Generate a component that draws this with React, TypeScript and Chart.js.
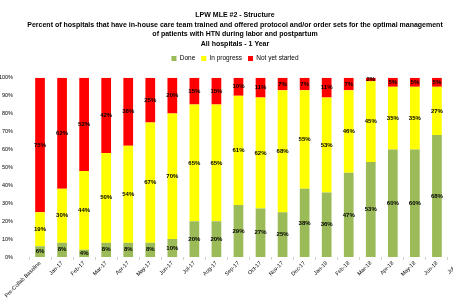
import React, { useEffect, useRef } from "react";
import { Chart, registerables } from "chart.js";

Chart.register(...registerables);

const titleLines = [
  "LPW MLE #2 - Structure",
  "Percent of hospitals that have in-house care team trained and offered protocol and/or order sets for the optimal management",
  "of patients with HTN during labor and postpartum",
  "All hospitals - 1 Year",
];

const categories = [
  "Pre-Collab Baseline",
  "Jan-17", "Feb-17", "Mar-17", "Apr-17", "May-17", "Jun-17",
  "Jul-17", "Aug-17", "Sep-17", "Oct-17", "Nov-17", "Dec-17",
  "Jan-18", "Feb-18", "Mar-18", "Apr-18", "May-18", "Jun-18", "Jul-18",
];

const seriesNames = ["Done", "In progress", "Not yet started"];
const doneValues = [6, 8, 4, 8, 8, 8, 10, 20, 20, 29, 27, 25, 38, 36, 47, 53, 60, 60, 68, null];
const progressValues = [19, 30, 44, 50, 54, 67, 70, 65, 65, 61, 62, 68, 55, 53, 46, 45, 35, 35, 27, null];
const notStartedValues = [75, 62, 52, 42, 38, 25, 20, 15, 15, 10, 11, 7, 7, 11, 7, 2, 5, 5, 5, null];

const colors = ["#9BBB59", "#FFFF00", "#FF0000"];

const FONT = "'Liberation Sans', Arial, sans-serif";

const dataLabelPlugin = {
  id: "segLabels",
  afterDatasetsDraw(chart: any) {
    const ctx = chart.ctx;
    ctx.save();
    ctx.font = `bold 6px ${FONT}`;
    ctx.fillStyle = "#000";
    ctx.textAlign = "center";
    ctx.textBaseline = "middle";
    chart.data.datasets.forEach((ds: any, di: number) => {
      const meta = chart.getDatasetMeta(di);
      meta.data.forEach((el: any, i: number) => {
        const v = ds.data[i];
        if (v === null || v === undefined) return;
        const p = el.getProps(["x", "y", "base"], true);
        ctx.fillText(`${v}%`, p.x, (p.y + p.base) / 2);
      });
    });
    ctx.restore();
  },
};

export default function App() {
  const ref = useRef<HTMLCanvasElement>(null);
  useEffect(() => {
    if (!ref.current) return;
    const chart = new Chart(ref.current, {
      type: "bar",
      data: {
        labels: categories,
        datasets: [
          { label: seriesNames[0], data: doneValues, backgroundColor: colors[0] },
          { label: seriesNames[1], data: progressValues, backgroundColor: colors[1] },
          { label: seriesNames[2], data: notStartedValues, backgroundColor: colors[2] },
        ],
      },
      options: {
        responsive: false,
        animation: false,
        layout: { padding: { left: 0, right: 15, top: 10, bottom: 0 } },
        datasets: { bar: { categoryPercentage: 1, barPercentage: 0.44 } },
        plugins: {
          title: {
            display: true,
            text: titleLines,
            color: "#000",
            font: { family: FONT, size: 7, weight: "bold", lineHeight: 1.4 },
            padding: { top: 0, bottom: 0 },
          },
          legend: {
            display: true,
            position: "top",
            labels: {
              boxWidth: 5,
              boxHeight: 5,
              color: "#000",
              font: { family: FONT, size: 6.5 },
              padding: 6,
            },
          },
          tooltip: { enabled: false },
        },
        scales: {
          x: {
            stacked: true,
            grid: { display: true, drawOnChartArea: false, tickLength: 3, color: "#d0d0d0", offset: true },
            border: { display: false },
            ticks: {
              autoSkip: false,
              maxRotation: 45,
              minRotation: 45,
              color: "#000",
              font: { family: FONT, size: 5.5 },
              padding: 0,
            },
            afterFit: (s: any) => { s.height = 43; },
          },
          xTopSpacer: {
            type: "category",
            position: "top",
            display: true,
            grid: { display: false },
            border: { display: false },
            ticks: { display: false },
            afterFit: (s: any) => { s.height = 6; },
          },
          y: {
            stacked: true,
            min: 0,
            max: 100,
            grid: { display: false },
            border: { display: false },
            ticks: {
              stepSize: 10,
              color: "#000",
              padding: 8,
              font: { family: FONT, size: 5.5 },
              callback: (v: any) => `${v}%`,
            },
            afterFit: (s: any) => { s.width = 29; },
          },
        },
      },
      plugins: [dataLabelPlugin],
    });
    return () => chart.destroy();
  }, []);
  return (
    <div style={{ position: "fixed", left: 0, top: 0, width: 453, height: 300, overflow: "hidden", background: "#fff" }}>
      <canvas ref={ref} width={485} height={300} />
    </div>
  );
}
